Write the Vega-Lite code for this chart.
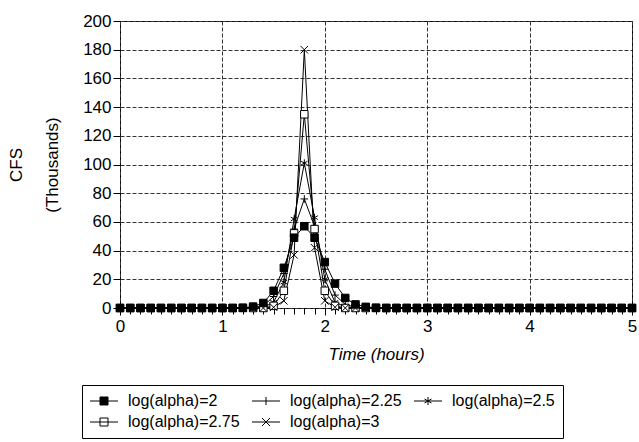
{
  "$schema": "https://vega.github.io/schema/vega-lite/v6.json",
  "width": 512,
  "height": 287,
  "autosize": {"type": "none"},
  "padding": {"left": 120, "top": 21, "right": 7, "bottom": 134},
  "background": "white",
  "config": {
    "font": "Liberation Sans",
    "view": {"stroke": "black", "strokeWidth": 1},
    "axisY": {
      "values": [0, 20, 40, 60, 80, 100, 120, 140, 160, 180, 200],
      "labelOverlap": false,
      "labelFontSize": 17, "labelColor": "black", "labelPadding": 2,
      "tickSize": 7, "tickColor": "black",
      "domain": false,
      "grid": true, "gridColor": "#333", "gridDash": [4, 2], "gridWidth": 1
    }
  },
  "data": {
    "values": [
      {"t":0,"s":"log(alpha)=2.25","v":0},{"t":0.1,"s":"log(alpha)=2.25","v":0},{"t":0.2,"s":"log(alpha)=2.25","v":0},{"t":0.3,"s":"log(alpha)=2.25","v":0},{"t":0.4,"s":"log(alpha)=2.25","v":0},{"t":0.5,"s":"log(alpha)=2.25","v":0},{"t":0.6,"s":"log(alpha)=2.25","v":0},{"t":0.7,"s":"log(alpha)=2.25","v":0},{"t":0.8,"s":"log(alpha)=2.25","v":0},{"t":0.9,"s":"log(alpha)=2.25","v":0},{"t":1,"s":"log(alpha)=2.25","v":0},{"t":1.1,"s":"log(alpha)=2.25","v":0},{"t":1.2,"s":"log(alpha)=2.25","v":0},{"t":1.3,"s":"log(alpha)=2.25","v":0.3},{"t":1.4,"s":"log(alpha)=2.25","v":1.5},{"t":1.5,"s":"log(alpha)=2.25","v":8},{"t":1.6,"s":"log(alpha)=2.25","v":24},{"t":1.7,"s":"log(alpha)=2.25","v":55},{"t":1.8,"s":"log(alpha)=2.25","v":76},{"t":1.9,"s":"log(alpha)=2.25","v":57},{"t":2,"s":"log(alpha)=2.25","v":27},{"t":2.1,"s":"log(alpha)=2.25","v":9},{"t":2.2,"s":"log(alpha)=2.25","v":2.5},{"t":2.3,"s":"log(alpha)=2.25","v":0.5},{"t":2.4,"s":"log(alpha)=2.25","v":0},{"t":2.5,"s":"log(alpha)=2.25","v":0},{"t":2.6,"s":"log(alpha)=2.25","v":0},{"t":2.7,"s":"log(alpha)=2.25","v":0},{"t":2.8,"s":"log(alpha)=2.25","v":0},{"t":2.9,"s":"log(alpha)=2.25","v":0},{"t":3,"s":"log(alpha)=2.25","v":0},{"t":3.1,"s":"log(alpha)=2.25","v":0},{"t":3.2,"s":"log(alpha)=2.25","v":0},{"t":3.3,"s":"log(alpha)=2.25","v":0},{"t":3.4,"s":"log(alpha)=2.25","v":0},{"t":3.5,"s":"log(alpha)=2.25","v":0},{"t":3.6,"s":"log(alpha)=2.25","v":0},{"t":3.7,"s":"log(alpha)=2.25","v":0},{"t":3.8,"s":"log(alpha)=2.25","v":0},{"t":3.9,"s":"log(alpha)=2.25","v":0},{"t":4,"s":"log(alpha)=2.25","v":0},{"t":4.1,"s":"log(alpha)=2.25","v":0},{"t":4.2,"s":"log(alpha)=2.25","v":0},{"t":4.3,"s":"log(alpha)=2.25","v":0},{"t":4.4,"s":"log(alpha)=2.25","v":0},{"t":4.5,"s":"log(alpha)=2.25","v":0},{"t":4.6,"s":"log(alpha)=2.25","v":0},{"t":4.7,"s":"log(alpha)=2.25","v":0},{"t":4.8,"s":"log(alpha)=2.25","v":0},{"t":4.9,"s":"log(alpha)=2.25","v":0},{"t":5,"s":"log(alpha)=2.25","v":0},

      {"t":0,"s":"log(alpha)=2.5","v":0},{"t":0.1,"s":"log(alpha)=2.5","v":0},{"t":0.2,"s":"log(alpha)=2.5","v":0},{"t":0.3,"s":"log(alpha)=2.5","v":0},{"t":0.4,"s":"log(alpha)=2.5","v":0},{"t":0.5,"s":"log(alpha)=2.5","v":0},{"t":0.6,"s":"log(alpha)=2.5","v":0},{"t":0.7,"s":"log(alpha)=2.5","v":0},{"t":0.8,"s":"log(alpha)=2.5","v":0},{"t":0.9,"s":"log(alpha)=2.5","v":0},{"t":1,"s":"log(alpha)=2.5","v":0},{"t":1.1,"s":"log(alpha)=2.5","v":0},{"t":1.2,"s":"log(alpha)=2.5","v":0},{"t":1.3,"s":"log(alpha)=2.5","v":0},{"t":1.4,"s":"log(alpha)=2.5","v":0.5},{"t":1.5,"s":"log(alpha)=2.5","v":4},{"t":1.6,"s":"log(alpha)=2.5","v":18},{"t":1.7,"s":"log(alpha)=2.5","v":62},{"t":1.8,"s":"log(alpha)=2.5","v":101},{"t":1.9,"s":"log(alpha)=2.5","v":63},{"t":2,"s":"log(alpha)=2.5","v":20},{"t":2.1,"s":"log(alpha)=2.5","v":4},{"t":2.2,"s":"log(alpha)=2.5","v":0.8},{"t":2.3,"s":"log(alpha)=2.5","v":0},{"t":2.4,"s":"log(alpha)=2.5","v":0},{"t":2.5,"s":"log(alpha)=2.5","v":0},{"t":2.6,"s":"log(alpha)=2.5","v":0},{"t":2.7,"s":"log(alpha)=2.5","v":0},{"t":2.8,"s":"log(alpha)=2.5","v":0},{"t":2.9,"s":"log(alpha)=2.5","v":0},{"t":3,"s":"log(alpha)=2.5","v":0},{"t":3.1,"s":"log(alpha)=2.5","v":0},{"t":3.2,"s":"log(alpha)=2.5","v":0},{"t":3.3,"s":"log(alpha)=2.5","v":0},{"t":3.4,"s":"log(alpha)=2.5","v":0},{"t":3.5,"s":"log(alpha)=2.5","v":0},{"t":3.6,"s":"log(alpha)=2.5","v":0},{"t":3.7,"s":"log(alpha)=2.5","v":0},{"t":3.8,"s":"log(alpha)=2.5","v":0},{"t":3.9,"s":"log(alpha)=2.5","v":0},{"t":4,"s":"log(alpha)=2.5","v":0},{"t":4.1,"s":"log(alpha)=2.5","v":0},{"t":4.2,"s":"log(alpha)=2.5","v":0},{"t":4.3,"s":"log(alpha)=2.5","v":0},{"t":4.4,"s":"log(alpha)=2.5","v":0},{"t":4.5,"s":"log(alpha)=2.5","v":0},{"t":4.6,"s":"log(alpha)=2.5","v":0},{"t":4.7,"s":"log(alpha)=2.5","v":0},{"t":4.8,"s":"log(alpha)=2.5","v":0},{"t":4.9,"s":"log(alpha)=2.5","v":0},{"t":5,"s":"log(alpha)=2.5","v":0},

      {"t":0,"s":"log(alpha)=2.75","v":0},{"t":0.1,"s":"log(alpha)=2.75","v":0},{"t":0.2,"s":"log(alpha)=2.75","v":0},{"t":0.3,"s":"log(alpha)=2.75","v":0},{"t":0.4,"s":"log(alpha)=2.75","v":0},{"t":0.5,"s":"log(alpha)=2.75","v":0},{"t":0.6,"s":"log(alpha)=2.75","v":0},{"t":0.7,"s":"log(alpha)=2.75","v":0},{"t":0.8,"s":"log(alpha)=2.75","v":0},{"t":0.9,"s":"log(alpha)=2.75","v":0},{"t":1,"s":"log(alpha)=2.75","v":0},{"t":1.1,"s":"log(alpha)=2.75","v":0},{"t":1.2,"s":"log(alpha)=2.75","v":0},{"t":1.3,"s":"log(alpha)=2.75","v":0},{"t":1.4,"s":"log(alpha)=2.75","v":0},{"t":1.5,"s":"log(alpha)=2.75","v":1.5},{"t":1.6,"s":"log(alpha)=2.75","v":12},{"t":1.7,"s":"log(alpha)=2.75","v":52},{"t":1.8,"s":"log(alpha)=2.75","v":135},{"t":1.9,"s":"log(alpha)=2.75","v":55},{"t":2,"s":"log(alpha)=2.75","v":12},{"t":2.1,"s":"log(alpha)=2.75","v":1.5},{"t":2.2,"s":"log(alpha)=2.75","v":0},{"t":2.3,"s":"log(alpha)=2.75","v":0},{"t":2.4,"s":"log(alpha)=2.75","v":0},{"t":2.5,"s":"log(alpha)=2.75","v":0},{"t":2.6,"s":"log(alpha)=2.75","v":0},{"t":2.7,"s":"log(alpha)=2.75","v":0},{"t":2.8,"s":"log(alpha)=2.75","v":0},{"t":2.9,"s":"log(alpha)=2.75","v":0},{"t":3,"s":"log(alpha)=2.75","v":0},{"t":3.1,"s":"log(alpha)=2.75","v":0},{"t":3.2,"s":"log(alpha)=2.75","v":0},{"t":3.3,"s":"log(alpha)=2.75","v":0},{"t":3.4,"s":"log(alpha)=2.75","v":0},{"t":3.5,"s":"log(alpha)=2.75","v":0},{"t":3.6,"s":"log(alpha)=2.75","v":0},{"t":3.7,"s":"log(alpha)=2.75","v":0},{"t":3.8,"s":"log(alpha)=2.75","v":0},{"t":3.9,"s":"log(alpha)=2.75","v":0},{"t":4,"s":"log(alpha)=2.75","v":0},{"t":4.1,"s":"log(alpha)=2.75","v":0},{"t":4.2,"s":"log(alpha)=2.75","v":0},{"t":4.3,"s":"log(alpha)=2.75","v":0},{"t":4.4,"s":"log(alpha)=2.75","v":0},{"t":4.5,"s":"log(alpha)=2.75","v":0},{"t":4.6,"s":"log(alpha)=2.75","v":0},{"t":4.7,"s":"log(alpha)=2.75","v":0},{"t":4.8,"s":"log(alpha)=2.75","v":0},{"t":4.9,"s":"log(alpha)=2.75","v":0},{"t":5,"s":"log(alpha)=2.75","v":0},

      {"t":0,"s":"log(alpha)=3","v":0},{"t":0.1,"s":"log(alpha)=3","v":0},{"t":0.2,"s":"log(alpha)=3","v":0},{"t":0.3,"s":"log(alpha)=3","v":0},{"t":0.4,"s":"log(alpha)=3","v":0},{"t":0.5,"s":"log(alpha)=3","v":0},{"t":0.6,"s":"log(alpha)=3","v":0},{"t":0.7,"s":"log(alpha)=3","v":0},{"t":0.8,"s":"log(alpha)=3","v":0},{"t":0.9,"s":"log(alpha)=3","v":0},{"t":1,"s":"log(alpha)=3","v":0},{"t":1.1,"s":"log(alpha)=3","v":0},{"t":1.2,"s":"log(alpha)=3","v":0},{"t":1.3,"s":"log(alpha)=3","v":0},{"t":1.4,"s":"log(alpha)=3","v":0},{"t":1.5,"s":"log(alpha)=3","v":0.5},{"t":1.6,"s":"log(alpha)=3","v":5},{"t":1.7,"s":"log(alpha)=3","v":37},{"t":1.8,"s":"log(alpha)=3","v":180},{"t":1.9,"s":"log(alpha)=3","v":42},{"t":2,"s":"log(alpha)=3","v":5},{"t":2.1,"s":"log(alpha)=3","v":0.5},{"t":2.2,"s":"log(alpha)=3","v":0},{"t":2.3,"s":"log(alpha)=3","v":0},{"t":2.4,"s":"log(alpha)=3","v":0},{"t":2.5,"s":"log(alpha)=3","v":0},{"t":2.6,"s":"log(alpha)=3","v":0},{"t":2.7,"s":"log(alpha)=3","v":0},{"t":2.8,"s":"log(alpha)=3","v":0},{"t":2.9,"s":"log(alpha)=3","v":0},{"t":3,"s":"log(alpha)=3","v":0},{"t":3.1,"s":"log(alpha)=3","v":0},{"t":3.2,"s":"log(alpha)=3","v":0},{"t":3.3,"s":"log(alpha)=3","v":0},{"t":3.4,"s":"log(alpha)=3","v":0},{"t":3.5,"s":"log(alpha)=3","v":0},{"t":3.6,"s":"log(alpha)=3","v":0},{"t":3.7,"s":"log(alpha)=3","v":0},{"t":3.8,"s":"log(alpha)=3","v":0},{"t":3.9,"s":"log(alpha)=3","v":0},{"t":4,"s":"log(alpha)=3","v":0},{"t":4.1,"s":"log(alpha)=3","v":0},{"t":4.2,"s":"log(alpha)=3","v":0},{"t":4.3,"s":"log(alpha)=3","v":0},{"t":4.4,"s":"log(alpha)=3","v":0},{"t":4.5,"s":"log(alpha)=3","v":0},{"t":4.6,"s":"log(alpha)=3","v":0},{"t":4.7,"s":"log(alpha)=3","v":0},{"t":4.8,"s":"log(alpha)=3","v":0},{"t":4.9,"s":"log(alpha)=3","v":0},{"t":5,"s":"log(alpha)=3","v":0},

      {"t":0,"s":"log(alpha)=2","v":0},{"t":0.1,"s":"log(alpha)=2","v":0},{"t":0.2,"s":"log(alpha)=2","v":0},{"t":0.3,"s":"log(alpha)=2","v":0},{"t":0.4,"s":"log(alpha)=2","v":0},{"t":0.5,"s":"log(alpha)=2","v":0},{"t":0.6,"s":"log(alpha)=2","v":0},{"t":0.7,"s":"log(alpha)=2","v":0},{"t":0.8,"s":"log(alpha)=2","v":0},{"t":0.9,"s":"log(alpha)=2","v":0},{"t":1,"s":"log(alpha)=2","v":0},{"t":1.1,"s":"log(alpha)=2","v":0},{"t":1.2,"s":"log(alpha)=2","v":0.2},{"t":1.3,"s":"log(alpha)=2","v":1},{"t":1.4,"s":"log(alpha)=2","v":3.5},{"t":1.5,"s":"log(alpha)=2","v":12},{"t":1.6,"s":"log(alpha)=2","v":28},{"t":1.7,"s":"log(alpha)=2","v":49},{"t":1.8,"s":"log(alpha)=2","v":57},{"t":1.9,"s":"log(alpha)=2","v":49},{"t":2,"s":"log(alpha)=2","v":32},{"t":2.1,"s":"log(alpha)=2","v":17},{"t":2.2,"s":"log(alpha)=2","v":7},{"t":2.3,"s":"log(alpha)=2","v":2.5},{"t":2.4,"s":"log(alpha)=2","v":0.8},{"t":2.5,"s":"log(alpha)=2","v":0.2},{"t":2.6,"s":"log(alpha)=2","v":0},{"t":2.7,"s":"log(alpha)=2","v":0},{"t":2.8,"s":"log(alpha)=2","v":0},{"t":2.9,"s":"log(alpha)=2","v":0},{"t":3,"s":"log(alpha)=2","v":0},{"t":3.1,"s":"log(alpha)=2","v":0},{"t":3.2,"s":"log(alpha)=2","v":0},{"t":3.3,"s":"log(alpha)=2","v":0},{"t":3.4,"s":"log(alpha)=2","v":0},{"t":3.5,"s":"log(alpha)=2","v":0},{"t":3.6,"s":"log(alpha)=2","v":0},{"t":3.7,"s":"log(alpha)=2","v":0},{"t":3.8,"s":"log(alpha)=2","v":0},{"t":3.9,"s":"log(alpha)=2","v":0},{"t":4,"s":"log(alpha)=2","v":0},{"t":4.1,"s":"log(alpha)=2","v":0},{"t":4.2,"s":"log(alpha)=2","v":0},{"t":4.3,"s":"log(alpha)=2","v":0},{"t":4.4,"s":"log(alpha)=2","v":0},{"t":4.5,"s":"log(alpha)=2","v":0},{"t":4.6,"s":"log(alpha)=2","v":0},{"t":4.7,"s":"log(alpha)=2","v":0},{"t":4.8,"s":"log(alpha)=2","v":0},{"t":4.9,"s":"log(alpha)=2","v":0},{"t":5,"s":"log(alpha)=2","v":0}
    ]
  },
  "layer": [
    {
      "mark": {"type": "line", "stroke": "black", "strokeWidth": 1},
      "encoding": {
        "x": {
          "field": "t", "type": "quantitative",
          "scale": {"domain": [0, 5], "nice": false, "zero": false},
          "axis": {
            "orient": "bottom",
            "values": [0, 1, 2, 3, 4, 5],
            "title": "Time (hours)",
            "titleFontSize": 17, "titleFontWeight": "normal", "titleFontStyle": "italic",
            "titleColor": "black", "titlePadding": 12,
            "labelFontSize": 17, "labelColor": "black", "labelPadding": 3, "labelFlush": false,
            "tickSize": 7, "tickColor": "black",
            "domain": false,
            "grid": true, "gridColor": "#333", "gridDash": [4, 2], "gridWidth": 1
          }
        },
        "y": {
          "field": "v", "type": "quantitative",
          "scale": {"domain": [0, 200], "nice": false},
          "axis": {
            "values": [0, 20, 40, 60, 80, 100, 120, 140, 160, 180, 200],
            "labelOverlap": false,
            "title": ["CFS", "(Thousands)"],
            "titleX": -95, "titleY": 143.5,
            "titleLineHeight": 36, "titleFontSize": 17, "titleFontWeight": "normal", "titleColor": "black"
          }
        },
        "detail": {"field": "s", "type": "nominal"},
        "order": {"field": "t", "type": "quantitative"}
      }
    },
    {
      "mark": {"type": "point", "stroke": "black", "strokeWidth": 1, "opacity": 1, "size": 56},
      "encoding": {
        "x": {
          "field": "t", "type": "quantitative",
          "scale": {"domain": [0, 5], "nice": false, "zero": false},
          "axis": {
            "orient": "bottom",
            "values": [0,0.1,0.2,0.3,0.4,0.5,0.6,0.7,0.8,0.9,1,1.1,1.2,1.3,1.4,1.5,1.6,1.7,1.8,1.9,2,2.1,2.2,2.3,2.4,2.5,2.6,2.7,2.8,2.9,3,3.1,3.2,3.3,3.4,3.5,3.6,3.7,3.8,3.9,4,4.1,4.2,4.3,4.4,4.5,4.6,4.7,4.8,4.9,5],
            "labels": false, "title": null, "grid": false, "domain": false,
            "tickSize": 6, "tickColor": "black"
          }
        },
        "y": {
          "field": "v", "type": "quantitative", "scale": {"domain": [0, 200], "nice": false},
          "axis": {
            "values": [0, 20, 40, 60, 80, 100, 120, 140, 160, 180, 200],
            "labelOverlap": false,
            "title": ["CFS", "(Thousands)"],
            "titleX": -95, "titleY": 143.5,
            "titleLineHeight": 36, "titleFontSize": 17, "titleFontWeight": "normal", "titleColor": "black"
          }
        },
        "shape": {
          "field": "s", "type": "nominal",
          "scale": {
            "domain": ["log(alpha)=2", "log(alpha)=2.25", "log(alpha)=2.5", "log(alpha)=2.75", "log(alpha)=3"],
            "range": ["square", "M-1,0H1M0,-1V1", "M0,-1V1M-0.87,-0.5L0.87,0.5M-0.87,0.5L0.87,-0.5", "square", "M-1,-1L1,1M-1,1L1,-1"]
          },
          "legend": null
        },
        "fill": {
          "field": "s", "type": "nominal",
          "scale": {
            "domain": ["log(alpha)=2", "log(alpha)=2.25", "log(alpha)=2.5", "log(alpha)=2.75", "log(alpha)=3"],
            "range": ["black", "transparent", "transparent", "white", "transparent"]
          },
          "legend": null
        }
      }
    },
    {
      "transform": [{"filter": "datum.v > 1000"}],
      "mark": {"type": "point", "strokeWidth": 1, "size": 64},
      "encoding": {
        "x": {"field": "t", "type": "quantitative", "scale": {"domain": [0, 5], "nice": false, "zero": false}, "axis": null},
        "y": {
          "field": "v", "type": "quantitative", "scale": {"domain": [0, 200], "nice": false},
          "axis": {
            "values": [0, 20, 40, 60, 80, 100, 120, 140, 160, 180, 200],
            "labelOverlap": false,
            "title": ["CFS", "(Thousands)"],
            "titleX": -95, "titleY": 143.5,
            "titleLineHeight": 36, "titleFontSize": 17, "titleFontWeight": "normal", "titleColor": "black"
          }
        },
        "shape": {
          "field": "s", "type": "nominal",
          "scale": {
            "domain": ["log(alpha)=2", "log(alpha)=2.25", "log(alpha)=2.5", "log(alpha)=2.75", "log(alpha)=3"],
            "range": ["M-3.5,0H3.5M-1,-1H1V1H-1Z", "M-3.5,0H3.5M0,-1V1", "M-3.5,0H3.5M0,-1V1M-0.87,-0.5L0.87,0.5M-0.87,0.5L0.87,-0.5", "M-3.5,0H3.5M-1,-1H1V1H-1Z", "M-3.5,0H3.5M-1,-1L1,1M-1,1L1,-1"]
          },
          "legend": {
            "orient": "none", "legendX": -38, "legendY": 364,
            "direction": "horizontal", "columns": 3,
            "title": null,
            "strokeColor": "black", "padding": 8,
            "symbolSize": 64, "symbolStrokeWidth": 1, "symbolOpacity": 1,
            "symbolOffset": 6, "labelOffset": 16,
            "labelFont": "Liberation Sans", "labelFontSize": 16, "labelColor": "black",
            "columnPadding": 10, "rowPadding": 5
          }
        },
        "stroke": {
          "field": "s", "type": "nominal",
          "scale": {
            "domain": ["log(alpha)=2", "log(alpha)=2.25", "log(alpha)=2.5", "log(alpha)=2.75", "log(alpha)=3"],
            "range": ["black", "black", "black", "black", "black"]
          }
        },
        "fill": {
          "field": "s", "type": "nominal",
          "scale": {
            "domain": ["log(alpha)=2", "log(alpha)=2.25", "log(alpha)=2.5", "log(alpha)=2.75", "log(alpha)=3"],
            "range": ["black", "white", "white", "white", "white"]
          }
        }
      }
    }
  ],
  "resolve": {
    "axis": {"x": "independent"},
    "scale": {"shape": "independent", "fill": "independent", "stroke": "independent"}
  }
}
